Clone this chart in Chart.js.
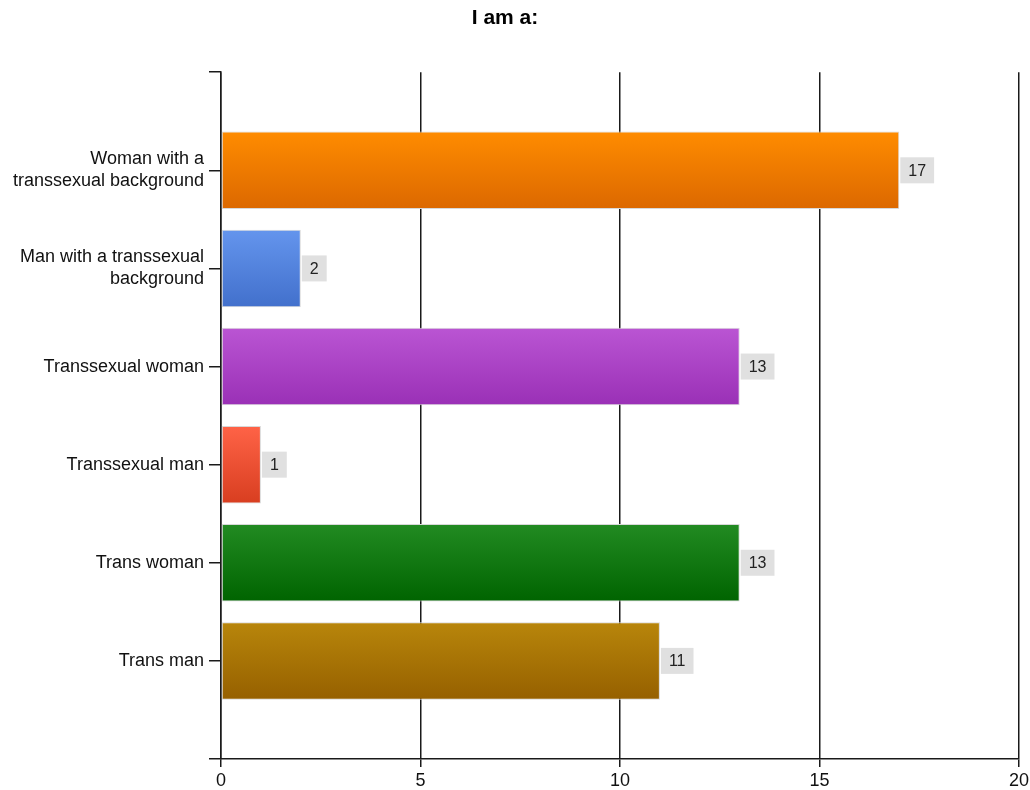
<!DOCTYPE html>
<html>
<head>
<meta charset="utf-8">
<script src="https://cdn.jsdelivr.net/npm/chart.js@4/dist/chart.umd.min.js"></script>
<style>
  html, body { margin: 0; padding: 0; background: #fff; }
  #wrap { width: 1030px; height: 790px; }
</style>
</head>
<body>
<div id="wrap"><canvas id="barChart"></canvas></div>
<script>
// survey answers, top to bottom
var categories = [
  ['Woman with a', 'transsexual background'],
  ['Man with a transsexual', 'background'],
  'Transsexual woman',
  'Transsexual man',
  'Trans woman',
  'Trans man'
];
var counts = [17, 2, 13, 1, 13, 11];
var topColors = ['#ff8c00', '#6495ed', '#ba55d3', '#ff6347', '#228b22', '#b8860b'];
var bottomColors = ['#dc6800', '#4270cc', '#9a30b6', '#d83e20', '#006400', '#966000'];
var xTicks = [0, 5, 10, 15, 20];

// one empty slot above and below the bars
var labels = [''].concat(categories, ['']);
var values = [null].concat(counts, [null]);
var barPct = 0.79;

function barGradient(ctx) {
  var i = ctx.dataIndex - 1;
  var chart = ctx.chart;
  var y = chart.scales && chart.scales.y;
  if (i < 0 || i >= counts.length) return '#fff';
  if (!y || !chart.chartArea) return topColors[i];
  var center = y.getPixelForValue(ctx.dataIndex);
  var half = (y.getPixelForValue(1) - y.getPixelForValue(0)) * barPct / 2;
  var g = chart.ctx.createLinearGradient(0, center - half, 0, center + half);
  g.addColorStop(0, topColors[i]);
  g.addColorStop(1, bottomColors[i]);
  return g;
}

// grey box with the count, right after each bar
var valueBoxes = {
  id: 'valueBoxes',
  afterDatasetsDraw: function(chart) {
    var c = chart.ctx;
    var meta = chart.getDatasetMeta(0);
    c.save();
    c.font = '16px "Liberation Sans", Arial, sans-serif';
    c.textBaseline = 'middle';
    c.textAlign = 'center';
    meta.data.forEach(function(bar, idx) {
      var v = values[idx];
      if (v == null) return;
      var txt = String(v);
      var w = c.measureText(txt).width + 16;
      var h = 26;
      var x0 = bar.x + 1;
      c.fillStyle = '#e0e0e0';
      c.fillRect(x0, bar.y - h / 2, w, h);
      c.fillStyle = '#222';
      c.fillText(txt, x0 + w / 2, bar.y + 1);
    });
    c.restore();
  },
  afterLayout: function(chart) {
    // title sits a little left of the page centre
    if (chart.titleBlock) chart.titleBlock.right = 1010;
  }
};

var ctx = document.getElementById('barChart').getContext('2d');
var barChart = new Chart(ctx, {
  type: 'bar',
  data: {
    labels: labels,
    datasets: [{
      data: values,
      backgroundColor: barGradient,
      borderColor: '#d8d8d8',
      borderWidth: 1,
      borderSkipped: false,
      categoryPercentage: 1,
      barPercentage: barPct
    }]
  },
  options: {
    indexAxis: 'y',
    responsive: true,
    maintainAspectRatio: false,
    animation: false,
    layout: { padding: 0 },
    plugins: {
      legend: { display: false },
      tooltip: { enabled: false },
      title: {
        display: true,
        text: 'I am a:',
        color: '#000',
        font: { family: '"Liberation Sans", Arial, sans-serif', size: 21, weight: 'bold', lineHeight: 1.2 },
        padding: { top: 6, bottom: 41 }
      }
    },
    scales: {
      x: {
        type: 'linear',
        position: 'bottom',
        min: 0,
        max: 20,
        afterBuildTicks: function(scale) {
          scale.ticks = xTicks.map(function(v) { return { value: v }; });
        },
        afterFit: function(scale) {
          scale.height = 31;
          scale.paddingRight = 11;
        },
        grid: {
          color: '#1a1a1a',
          lineWidth: 1.5,
          tickLength: 8,
          drawTicks: true
        },
        border: { display: true, color: '#1a1a1a', width: 1.5 },
        ticks: {
          color: '#111',
          padding: 4,
          maxRotation: 0,
          font: { family: '"Liberation Sans", Arial, sans-serif', size: 18, lineHeight: 1.1 }
        }
      },
      y: {
        type: 'category',
        offset: false,
        afterFit: function(scale) { scale.width = 221; },
        grid: {
          offset: false,
          drawOnChartArea: false,
          color: '#1a1a1a',
          lineWidth: 1.5,
          tickLength: 12
        },
        border: { display: true, color: '#1a1a1a', width: 1.5 },
        ticks: {
          color: '#111',
          padding: 5,
          autoSkip: false,
          font: { family: '"Liberation Sans", Arial, sans-serif', size: 18, lineHeight: 1.22 }
        }
      }
    }
  },
  plugins: [valueBoxes]
});
</script>
</body>
</html>
